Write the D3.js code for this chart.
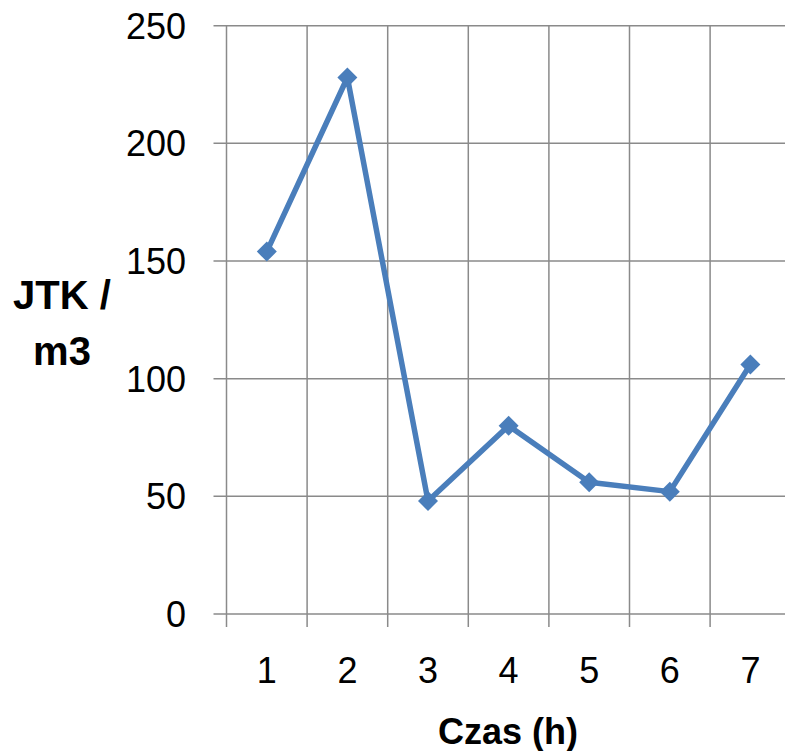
<!DOCTYPE html>
<html>
<head>
<meta charset="utf-8">
<script src="https://cdn.jsdelivr.net/npm/d3@7"></script>
<style>
  html, body { margin: 0; padding: 0; background: #fff; }
  svg text { font-family: "Liberation Sans", Arial, sans-serif; fill: #000; }
</style>
</head>
<body>
<svg id="chart"></svg>
<script>
// Chart data
const categories = ["1", "2", "3", "4", "5", "6", "7"];
const jtkValues = [154, 228, 48, 80, 56, 52, 106];
const yTicks = [0, 50, 100, 150, 200, 250];

const width = 785;
const height = 751;

// Plot area (right side runs slightly past the picture edge)
const margin = { left: 226.5, top: 25.7, right: 790.7, bottom: 614 };

const svg = d3.select("#chart")
  .attr("width", width)
  .attr("height", height);

const x = d3.scaleBand()
  .domain(categories)
  .range([margin.left, margin.right]);

const y = d3.scaleLinear()
  .domain([0, 250])
  .range([margin.bottom, margin.top]);

const gridColor = "#8a8a8a";
const tickLen = 13;

// Horizontal gridlines, with outside tick on the left
svg.append("g")
  .selectAll("line")
  .data(yTicks)
  .join("line")
  .attr("x1", margin.left - tickLen)
  .attr("x2", margin.right)
  .attr("y1", d => y(d))
  .attr("y2", d => y(d))
  .attr("stroke", gridColor)
  .attr("stroke-width", 1.5);

// Vertical gridlines at category edges, with tick below the axis
const edges = categories.map(c => x(c)).concat([x(categories[categories.length - 1]) + x.bandwidth()]);
svg.append("g")
  .selectAll("line")
  .data(edges)
  .join("line")
  .attr("x1", d => d)
  .attr("x2", d => d)
  .attr("y1", margin.top)
  .attr("y2", margin.bottom + tickLen)
  .attr("stroke", gridColor)
  .attr("stroke-width", 1.5);

// Y tick labels
svg.append("g")
  .selectAll("text")
  .data(yTicks)
  .join("text")
  .attr("x", 186)
  .attr("y", d => y(d))
  .attr("dy", "0.36em")
  .attr("text-anchor", "end")
  .attr("font-size", 36)
  .text(d => d);

// X tick labels
svg.append("g")
  .selectAll("text")
  .data(categories)
  .join("text")
  .attr("x", d => x(d) + x.bandwidth() / 2)
  .attr("y", 683)
  .attr("text-anchor", "middle")
  .attr("font-size", 36)
  .text(d => d);

// Axis titles
svg.append("text")
  .attr("x", 508)
  .attr("y", 744)
  .attr("text-anchor", "middle")
  .attr("font-size", 36)
  .attr("font-weight", "bold")
  .text("Czas (h)");

const yTitle = svg.append("text")
  .attr("text-anchor", "middle")
  .attr("font-size", 40)
  .attr("font-weight", "bold");
yTitle.append("tspan").attr("x", 62).attr("y", 309).text("JTK /");
yTitle.append("tspan").attr("x", 62).attr("y", 365).text("m3");

// Series line
const seriesColor = "#4a7ebb";
const line = d3.line()
  .x((d, i) => x(categories[i]) + x.bandwidth() / 2)
  .y(d => y(d));

svg.append("path")
  .datum(jtkValues)
  .attr("d", line)
  .attr("fill", "none")
  .attr("stroke", seriesColor)
  .attr("stroke-width", 5.5)
  .attr("stroke-linejoin", "round");

// Diamond markers (rotated squares)
const diamond = d3.symbol().type(d3.symbolSquare).size(200);
svg.append("g")
  .selectAll("path")
  .data(jtkValues)
  .join("path")
  .attr("d", diamond)
  .attr("transform", (d, i) => `translate(${x(categories[i]) + x.bandwidth() / 2},${y(d)}) rotate(45)`)
  .attr("fill", seriesColor);
</script>
</body>
</html>
